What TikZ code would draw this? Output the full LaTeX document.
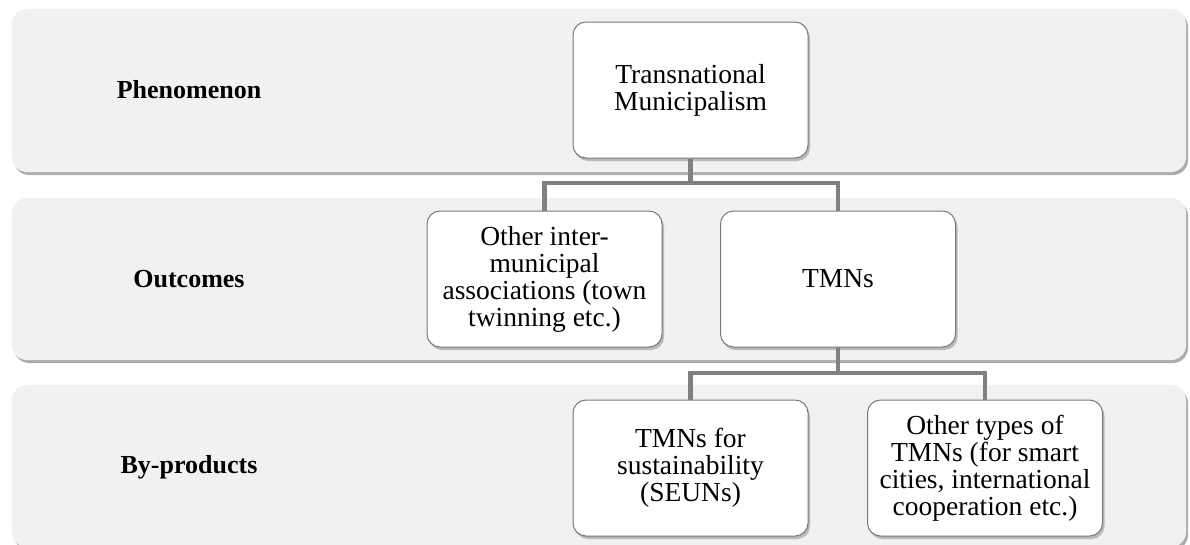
\documentclass[tikz,border=0pt]{standalone}
\usepackage{fontspec}
\setmainfont{Liberation Serif}
\usetikzlibrary{shadows}
\definecolor{bandfill}{RGB}{241,241,241}
\definecolor{linkgray}{RGB}{128,128,128}
\definecolor{boxline}{RGB}{120,120,120}
\tikzset{
  band/.style={fill=bandfill, draw=none, rounded corners=15pt,
    general shadow={fill=gray!65, shadow xshift=2pt, shadow yshift=-3pt}},
  lbl/.style={font=\fontsize{26}{26.5}\selectfont\bfseries, anchor=center},
  item/.style={draw=boxline, line width=1pt, fill=white, rounded corners=13pt,
    minimum width=235pt, minimum height=136pt, align=center, inner sep=4pt,
    font=\fontsize{27.5}{27}\selectfont,
    general shadow={fill=gray!55, shadow xshift=2pt, shadow yshift=-3pt}},
  link/.style={draw=linkgray, line width=4.5pt}
}
\begin{document}
\begin{tikzpicture}[x=1pt,y=-1pt]
\useasboundingbox (0,0) rectangle (1190,544);
% bands
\path[band] (12,9) rectangle (1186,172);
\path[band] (12,198) rectangle (1186,360);
\path[band] (12,385) rectangle (1186,547);
% labels
\node[lbl] (l1) at (189,90) {Phenomenon};
\node[lbl] (l2) at (189,279) {Outcomes};
\node[lbl] (l3) at (189,467) {By-products};
% boxes
\node[item] (tm) at (690.5,90) {Transnational\\Municipalism};
\node[item] (oi) at (544.5,279) {Other inter-\\municipal\\associations (town\\twinning etc.)};
\node[item] (tmn) at (838,279) {TMNs};
\node[item] (sus) at (690.5,468) {TMNs for\\sustainability\\(SEUNs)};
\node[item] (ot) at (985,468) {Other types of\\TMNs (for smart\\cities, international\\cooperation etc.)};
% connectors
\coordinate (j1) at (690.5,183);
\coordinate (j2) at (838,373);
\draw[link] (tm.south) -- (j1) -| (oi.north);
\draw[link] (j1) -| (tmn.north);
\draw[link] (tmn.south) -- (j2) -| (sus.north);
\draw[link] (j2) -| (ot.north);
\end{tikzpicture}
\end{document}
